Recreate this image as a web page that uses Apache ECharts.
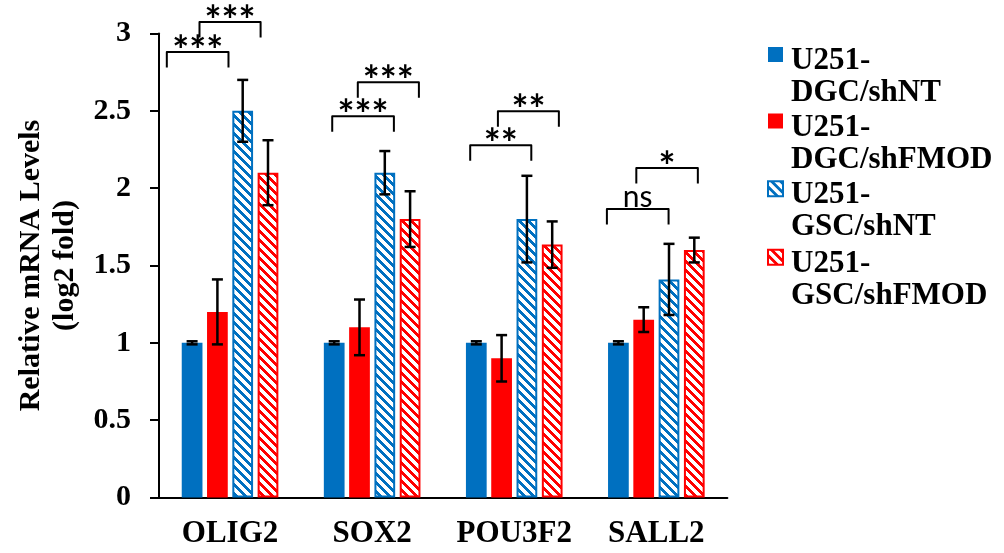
<!DOCTYPE html>
<html>
<head>
<meta charset="utf-8">
<script src="https://cdn.jsdelivr.net/npm/echarts@6/dist/echarts.min.js"></script>
<style>
  html, body { margin: 0; padding: 0; background: #fff; }
  #chart { width: 1004px; height: 553px; }
</style>
</head>
<body>
<div id="chart"></div>
<script>
// Genes on the x axis
const categories = ['OLIG2', 'SOX2', 'POU3F2', 'SALL2'];
const seriesNames = ['U251-DGC/shNT', 'U251-DGC/shFMOD', 'U251-GSC/shNT', 'U251-GSC/shFMOD'];

// Mean relative mRNA levels (log2 fold) per group
const dgcShNT   = [1.00, 1.00, 1.00, 1.00];
const dgcShFMOD = [1.20, 1.10, 0.90, 1.15];
const gscShNT   = [2.50, 2.10, 1.80, 1.41];
const gscShFMOD = [2.10, 1.80, 1.635, 1.60];

// Error (± SD) per group
const errDgcShNT   = [0.01, 0.01, 0.01, 0.01];
const errDgcShFMOD = [0.21, 0.18, 0.15, 0.08];
const errGscShNT   = [0.20, 0.14, 0.28, 0.23];
const errGscShFMOD = [0.21, 0.18, 0.15, 0.08];

// Significance brackets: gene index, span (in category units from the gene centre), height, label
const bracketCats   = [0, 0, 1, 1, 2, 2, 3, 3];
const bracketFrom   = [-0.445, -0.215, -0.281, -0.101, -0.310, -0.115, -0.348, -0.141];
const bracketTo     = [-0.011,  0.215,  0.153,  0.329,  0.120,  0.314,  0.086,  0.292];
const bracketY      = [2.88, 3.075, 2.465, 2.685, 2.277, 2.497, 1.866, 2.13];
const bracketLabels = ['***', '***', '***', '***', '**', '**', 'ns', '*'];

const BLUE = '#0070C0';
const RED = '#FF0000';
const SERIF = "'Liberation Serif', 'Times New Roman', serif";
const SANS = "Lato, 'Open Sans', sans-serif";
const BAR_GAP = '22%';
const CAT_GAP = '32%';

// Downward-diagonal stripe fill
function stripes(color) {
  const n = 9;
  const c = document.createElement('canvas');
  c.width = n; c.height = n;
  const g = c.getContext('2d');
  g.fillStyle = '#fff';
  g.fillRect(0, 0, n, n);
  g.fillStyle = color;
  for (let y = 0; y < n; y++) {
    for (let x = 0; x < n; x++) {
      if ((((x - y) % n) + n) % n < 4) g.fillRect(x, y, 1, 1);
    }
  }
  return { image: c, repeat: 'repeat' };
}

const values = [dgcShNT, dgcShFMOD, gscShNT, gscShFMOD];
const errors = [errDgcShNT, errDgcShFMOD, errGscShNT, errGscShFMOD];
const styles = [
  { color: BLUE },
  { color: RED },
  { color: stripes(BLUE), borderColor: BLUE, borderWidth: 2 },
  { color: stripes(RED), borderColor: RED, borderWidth: 2 }
];

const barSeries = seriesNames.map((name, i) => ({
  name: name,
  type: 'bar',
  data: values[i],
  barGap: BAR_GAP,
  barCategoryGap: CAT_GAP,
  itemStyle: styles[i],
  z: 2
}));

// Error bars, placed on the centre of each bar
const errData = [];
values.forEach((vals, s) => {
  vals.forEach((v, c) => errData.push([c, v, errors[s][c], s]));
});

const errorSeries = {
  type: 'custom',
  name: 'error',
  silent: true,
  z: 5,
  encode: { x: 0, y: 1 },
  data: errData,
  renderItem: function (params, api) {
    const c = api.value(0);
    const v = api.value(1);
    const e = api.value(2);
    const s = api.value(3);
    let off;
    if (api.barLayout) {
      const lay = api.barLayout({ barGap: BAR_GAP, barCategoryGap: CAT_GAP, count: 4 });
      off = lay[s].offsetCenter;
    } else {
      const band = api.size([1, 0])[0];
      const w = band * 0.68 / (4 + 3 * 0.22);
      off = -(4 * w + 3 * w * 0.22) / 2 + s * w * 1.22 + w / 2;
    }
    const x = api.coord([c, v])[0] + off;
    const yHi = api.coord([c, v + e])[1];
    const yLo = api.coord([c, v - e])[1];
    const half = 5.5;
    const st = { stroke: '#000', lineWidth: 2.5 };
    return {
      type: 'group',
      children: [
        { type: 'line', shape: { x1: x, y1: yHi, x2: x, y2: yLo }, style: st },
        { type: 'line', shape: { x1: x - half, y1: yHi, x2: x + half, y2: yHi }, style: st },
        { type: 'line', shape: { x1: x - half, y1: yLo, x2: x + half, y2: yLo }, style: st }
      ]
    };
  }
};

const bracketSeries = {
  type: 'custom',
  name: 'significance',
  silent: true,
  clip: false,
  z: 6,
  encode: { x: 0, y: 3 },
  data: bracketCats.map((c, i) => [c, bracketFrom[i], bracketTo[i], bracketY[i]]),
  renderItem: function (params, api) {
    const c = api.value(0);
    const p = api.coord([c, api.value(3)]);
    const band = api.size([1, 0])[0];
    const x1 = p[0] + api.value(1) * band;
    const x2 = p[0] + api.value(2) * band;
    const y = p[1];
    const drop = 15.5;
    const label = bracketLabels[params.dataIndex];
    const star = label.indexOf('*') >= 0;
    return {
      type: 'group',
      children: [
        {
          type: 'polyline',
          shape: { points: [[x1, y + drop], [x1, y], [x2, y], [x2, y + drop]] },
          style: { stroke: '#000', lineWidth: 2, fill: null, lineJoin: 'round' }
        },
        {
          type: 'text',
          x: (x1 + x2) / 2,
          y: y - (star ? 0 : 12),
          style: {
            text: label,
            fill: '#000',
            fontSize: star ? 40 : 30,
            fontWeight: star ? 'bold' : 'normal',
            fontFamily: SANS,
            align: 'center',
            verticalAlign: 'middle'
          }
        }
      ]
    };
  }
};

const chart = echarts.init(document.getElementById('chart'), null, { renderer: 'canvas' });
chart.setOption({
  animation: false,
  backgroundColor: '#fff',
  grid: { left: 159, top: 33.5, width: 568.4, height: 464, containLabel: false },
  legend: {
    orient: 'vertical',
    left: 762,
    top: 40,
    data: seriesNames,
    icon: 'path://M0,0M0,2L15,2L15,17L0,17ZM18,64',
    itemWidth: 18,
    itemHeight: 64,
    itemGap: 2.6,
    selectedMode: false,
    formatter: name => name.replace('-', '-\n'),
    textStyle: {
      color: '#000',
      fontFamily: SERIF,
      fontWeight: 'bold',
      fontSize: 31,
      lineHeight: 32
    }
  },
  xAxis: {
    type: 'category',
    data: categories,
    axisLine: { lineStyle: { color: '#000', width: 2 } },
    axisTick: { show: false },
    axisLabel: {
      color: '#000',
      fontFamily: SERIF,
      fontWeight: 'bold',
      fontSize: 31,
      margin: 21,
      interval: 0
    },
    splitLine: { show: false }
  },
  yAxis: {
    type: 'value',
    min: 0,
    max: 3,
    interval: 0.5,
    name: 'Relative mRNA Levels\n(log2 fold)',
    nameLocation: 'middle',
    nameRotate: 90,
    nameGap: 69,
    nameTextStyle: {
      color: '#000',
      fontFamily: SERIF,
      fontWeight: 'bold',
      fontSize: 30,
      lineHeight: 34
    },
    axisLine: { show: true, lineStyle: { color: '#000', width: 2 } },
    axisTick: { show: true, inside: false, length: 9, lineStyle: { color: '#000', width: 2 } },
    axisLabel: {
      color: '#000',
      fontFamily: SERIF,
      fontWeight: 'bold',
      fontSize: 30,
      margin: 28
    },
    splitLine: { show: false }
  },
  series: barSeries.concat([errorSeries, bracketSeries])
});
</script>
</body>
</html>
